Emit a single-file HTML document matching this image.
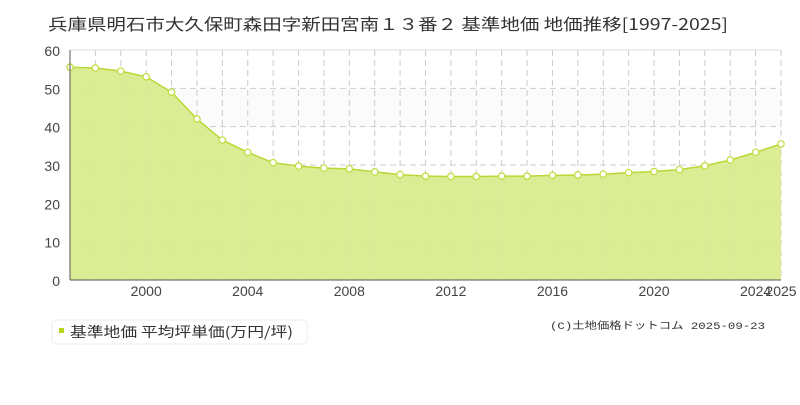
<!DOCTYPE html>
<html><head><meta charset="utf-8"><style>
body{margin:0;background:#fff;width:800px;height:400px;overflow:hidden;font-family:"Liberation Sans","Noto Sans CJK JP",sans-serif}
</style></head><body>
<svg id="s" width="800" height="400" xmlns="http://www.w3.org/2000/svg" font-family="Liberation Sans, Noto Sans CJK JP, sans-serif">
<text x="48" y="30" font-size="16" fill="#333" textLength="680" lengthAdjust="spacingAndGlyphs" font-family="Noto Sans CJK JP, sans-serif">兵庫県明石市大久保町森田字新田宮南１３番２ 基準地価 地価推移[1997-2025]</text>
<rect x="70" y="88.5" width="711" height="38.5" fill="#fbfbfb"/>
<g id="g"></g>
<rect x="52" y="320" width="255" height="24" rx="4" fill="#fff" stroke="#eee"/>
<rect x="59" y="328" width="5" height="5" fill="#b5d61e"/>
<text x="70" y="337" font-size="14" fill="#333" textLength="223" lengthAdjust="spacingAndGlyphs" font-family="Noto Sans CJK JP, sans-serif">基準地価 平均坪単価(万円/坪)</text>
<text x="550" y="329" font-size="10" fill="#333" textLength="215" lengthAdjust="spacingAndGlyphs" font-family="Liberation Mono, Noto Sans CJK JP, monospace">(C)土地価格ドットコム 2025-09-23</text>
</svg>
<script>
var d=[55.5,55.3,54.5,53,49,42,36.5,33.3,30.6,29.7,29.2,29,28.2,27.5,27.1,27,27,27.1,27.1,27.3,27.4,27.6,28,28.3,28.8,29.8,31.3,33.3,35.5];
function X(i){return 70+i*711/28}function Y(v){return 280-v*230/60}
var h='';
for(var v=10;v<=60;v+=10){h+='<line x1="70" x2="781" y1="'+Y(v)+'" y2="'+Y(v)+'" stroke="'+(v==60?'#ddd':'#ccc')+'" '+(v==60?'':'stroke-dasharray="6,4"')+'/>';}
for(var i=1;i<=28;i++){h+='<line x1="'+X(i)+'" x2="'+X(i)+'" y1="50" y2="280" stroke="#ccc" stroke-dasharray="6,4"/>';}
var p='M70,280';d.forEach(function(v,i){p+=' L'+X(i)+','+Y(v)});p+=' L781,280 Z';
h+='<path d="'+p+'" fill="#d9eb8f" fill-opacity="0.95"/>';
var l='';d.forEach(function(v,i){l+=(i?' L':'M')+X(i)+','+Y(v)});
h+='<path d="'+l+'" fill="none" stroke="#b8d934" stroke-width="1.5"/>';
d.forEach(function(v,i){h+='<circle cx="'+X(i)+'" cy="'+Y(v)+'" r="3.2" fill="#fff" stroke="#c2df45" stroke-width="1.3"/>'});
h+='<line x1="70" x2="70" y1="50" y2="280" stroke="#555"/><line x1="70" x2="781" y1="280" y2="280" stroke="#555"/>';
for(var v=0;v<=60;v+=10){h+='<text x="60" y="'+(Y(v)+6)+'" font-size="14" fill="#444" text-anchor="end">'+v+'</text>';}
[2000,2004,2008,2012,2016,2020,2024,2025].forEach(function(y){h+='<text x="'+X(y-1997)+'" y="296" font-size="14" fill="#444" text-anchor="middle">'+y+'</text>'});
document.getElementById('g').innerHTML=h;
</script>
</body></html>
